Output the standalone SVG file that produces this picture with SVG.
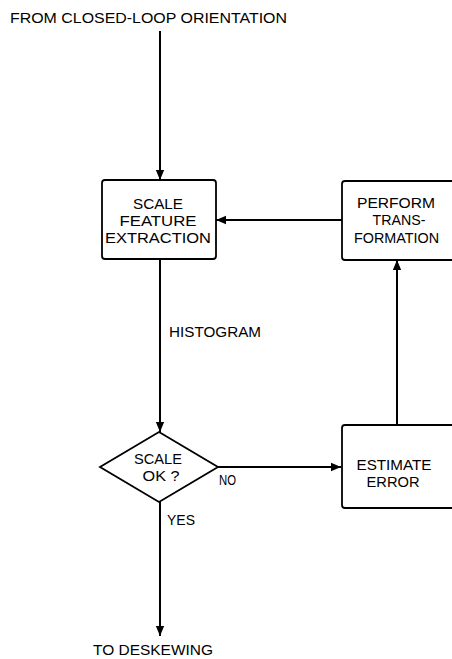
<svg xmlns="http://www.w3.org/2000/svg" width="452" height="659" viewBox="0 0 452 659">
<style>
text{font-family:"Liberation Sans",Arial,sans-serif;fill:#000;}
.lbl{font-size:14px;}
.bx{font-size:15.5px;text-anchor:middle;}
.dx{font-size:14px;text-anchor:middle;}
.box{fill:#fff;stroke:#000;stroke-width:1.8;}
.c{fill:none;stroke:#000;stroke-width:2;}
</style>
<defs>
<marker id="ah" markerUnits="userSpaceOnUse" markerWidth="10" markerHeight="12" refX="12" refY="5" orient="auto" viewBox="0 0 12 10">
<path d="M0,0 L12,5 L0,10 z" fill="#000"/>
</marker>
</defs>
<rect width="452" height="659" fill="#fff"/>
<g id="start"><text class="lbl" x="10" y="23" textLength="277" lengthAdjust="spacingAndGlyphs">FROM CLOSED-LOOP ORIENTATION</text></g>
<g id="connectors">
<path class="c" d="M160,31 V180" marker-end="url(#ah)"/>
<path class="c" d="M342,220 H216" marker-end="url(#ah)"/>
<path class="c" d="M160,259 V432" marker-end="url(#ah)"/>
<path class="c" d="M218,467 H341" marker-end="url(#ah)"/>
<path class="c" d="M397,425 V260" marker-end="url(#ah)"/>
<path class="c" d="M160,502 V636" marker-end="url(#ah)"/>
<text class="lbl" x="169" y="337" textLength="92" lengthAdjust="spacingAndGlyphs">HISTOGRAM</text>
<text class="lbl" x="219" y="485" textLength="17" lengthAdjust="spacingAndGlyphs">NO</text>
<text class="lbl" x="167" y="525" textLength="28" lengthAdjust="spacingAndGlyphs">YES</text>
</g>
<g id="scale-feature">
<rect class="box" x="102" y="180" width="114" height="79" rx="3"/>
<text class="bx" x="158" y="209" textLength="50" lengthAdjust="spacingAndGlyphs">SCALE</text>
<text class="bx" x="158" y="226" textLength="77" lengthAdjust="spacingAndGlyphs">FEATURE</text>
<text class="bx" x="158" y="243" textLength="106" lengthAdjust="spacingAndGlyphs">EXTRACTION</text>
</g>
<g id="perform">
<rect class="box" x="342" y="181" width="120" height="79" rx="3"/>
<text class="bx" x="396" y="208" textLength="78" lengthAdjust="spacingAndGlyphs">PERFORM</text>
<text class="bx" x="399" y="225" textLength="53" lengthAdjust="spacingAndGlyphs">TRANS-</text>
<text class="bx" x="396.5" y="243" textLength="85" lengthAdjust="spacingAndGlyphs">FORMATION</text>
</g>
<g id="decision">
<polygon class="box" points="159,432 218,467 159,502 100,467"/>
<text class="dx" x="158" y="464" textLength="48" lengthAdjust="spacingAndGlyphs">SCALE</text>
<text class="dx" x="161" y="481" textLength="37" lengthAdjust="spacingAndGlyphs">OK ?</text>
</g>
<g id="estimate">
<rect class="box" x="342" y="425" width="120" height="83" rx="3"/>
<text class="bx" x="394" y="470" textLength="75" lengthAdjust="spacingAndGlyphs">ESTIMATE</text>
<text class="bx" x="393" y="487" textLength="53" lengthAdjust="spacingAndGlyphs">ERROR</text>
</g>
<g id="end"><text class="lbl" x="93" y="655" textLength="120" lengthAdjust="spacingAndGlyphs">TO DESKEWING</text></g>
</svg>
